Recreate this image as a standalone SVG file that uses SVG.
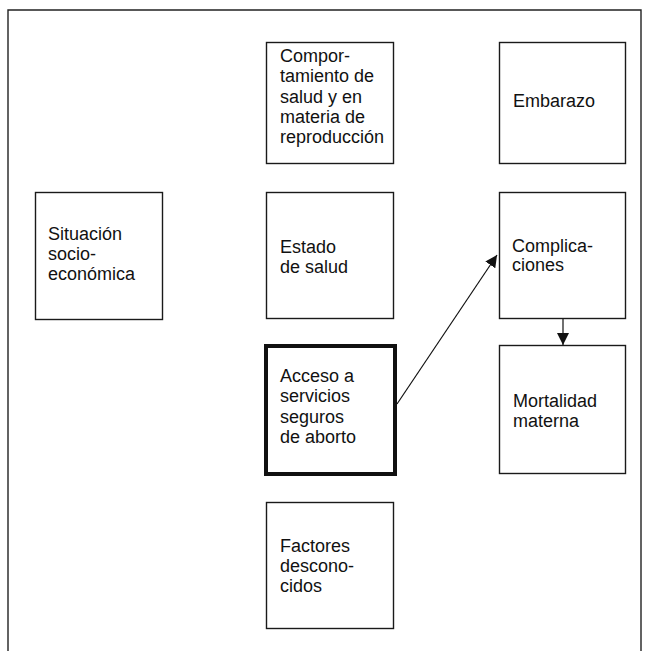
<svg xmlns="http://www.w3.org/2000/svg" width="648" height="651" viewBox="0 0 648 651">
<style>
.box{fill:#fff;stroke:#1a1a1a;stroke-width:1.4}
.thick{fill:#fff;stroke:#111;stroke-width:4}
text{font-family:"Liberation Sans",Arial,sans-serif;font-size:18px;fill:#111}
.frame{fill:none;stroke:#222;stroke-width:1.4}
.conn{stroke:#111;stroke-width:1.2;fill:none}
</style>
<defs>
<marker id="ah" viewBox="0 0 12 12" refX="12" refY="6" markerWidth="12" markerHeight="12" markerUnits="userSpaceOnUse" orient="auto">
<path d="M0,0 L12,6 L0,12 Z" fill="#111"/>
</marker>
</defs>
<rect width="648" height="651" fill="#fff"/>
<path class="frame" d="M8,651 V10 H641 V651"/>
<g id="comportamiento"><rect class="box" x="266.5" y="42.5" width="127" height="121"/>
<text x="280" y="62">Compor-</text><text x="280" y="82.3">tamiento de</text><text x="280" y="102.6">salud y en</text><text x="280" y="122.9">materia de</text><text x="280" y="143.2">reproducción</text></g>
<g id="embarazo"><rect class="box" x="499.5" y="42.5" width="126" height="121"/>
<text x="513" y="107">Embarazo</text></g>
<g id="situacion"><rect class="box" x="35.5" y="192.5" width="127" height="127"/>
<text x="48" y="240">Situación</text><text x="48" y="260">socio-</text><text x="48" y="280">económica</text></g>
<g id="estado"><rect class="box" x="266.5" y="192.5" width="127" height="126"/>
<text x="280" y="253">Estado</text><text x="280" y="273">de salud</text></g>
<g id="complicaciones"><rect class="box" x="499.5" y="192.5" width="126" height="126"/>
<text x="512" y="252">Complica-</text><text x="512" y="271">ciones</text></g>
<g id="acceso"><rect class="thick" x="266" y="346" width="129" height="128"/>
<text x="280" y="382">Acceso a</text><text x="280" y="402">servicios</text><text x="280" y="423">seguros</text><text x="280" y="443">de aborto</text></g>
<g id="mortalidad"><rect class="box" x="499.5" y="345.5" width="126" height="128"/>
<text x="513" y="407">Mortalidad</text><text x="513" y="427">materna</text></g>
<g id="factores"><rect class="box" x="266.5" y="502.5" width="127" height="126"/>
<text x="280" y="552">Factores</text><text x="280" y="572">descono-</text><text x="280" y="592">cidos</text></g>
<g id="connectors">
<line class="conn" x1="397" y1="404" x2="497" y2="255" marker-end="url(#ah)"/>
<line class="conn" x1="563" y1="319" x2="563" y2="345" marker-end="url(#ah)"/>
</g>
</svg>
